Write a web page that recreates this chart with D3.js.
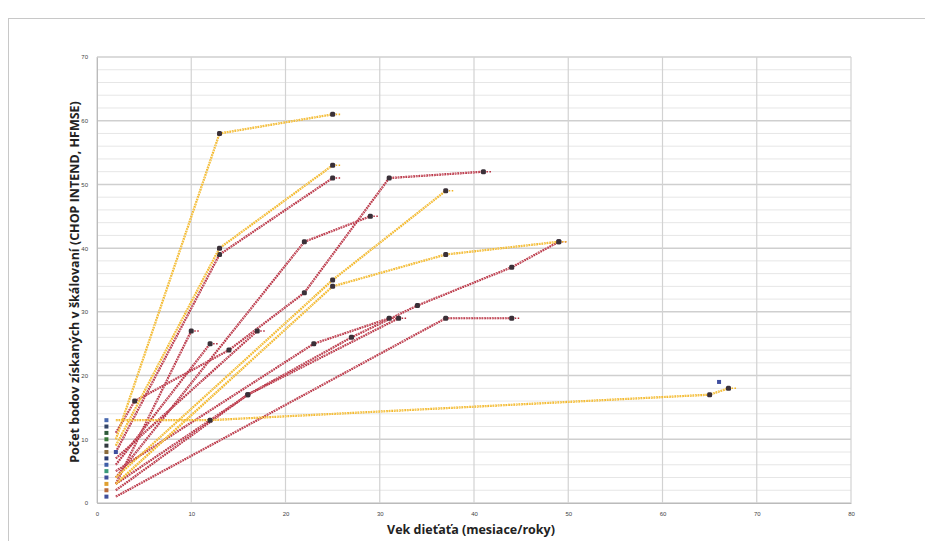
<!DOCTYPE html>
<html>
<head>
<meta charset="utf-8">
<script src="https://cdn.jsdelivr.net/npm/d3@7"></script>
<style>
  body { margin: 0; background: #fff; }
  svg { display: block; font-family: "Open Sans", "DejaVu Sans", sans-serif; }
</style>
</head>
<body>
<svg id="chart" width="925" height="541"></svg>
<script>
// axis ticks
var xTicks = [0, 10, 20, 30, 40, 50, 60, 70, 80];
var yTicks = [0, 10, 20, 30, 40, 50, 60, 70];
var yMinor = d3.range(0, 71, 2);

// each patient: [age, score] pairs
var redSeries = [
  [[2, 8], [13, 39], [25, 51]],
  [[2, 3], [10, 27]],
  [[2, 6], [12, 25]],
  [[2, 11], [4, 16], [14, 24], [22, 33], [31, 51], [41, 52]],
  [[2, 4], [22, 41], [29, 45]],
  [[2, 7], [17, 27]],
  [[2, 2], [16, 17], [27, 26], [34, 31], [44, 37], [49, 41]],
  [[2, 1], [37, 29], [44, 29]],
  [[2, 5], [23, 25], [31, 29]],
  [[2, 3], [16, 17], [32, 29]]
];
var orangeSeries = [
  [[2, 10], [13, 58], [25, 61]],
  [[2, 9], [13, 40], [25, 53]],
  [[2, 4], [25, 35], [37, 49]],
  [[2, 3], [25, 34], [37, 39], [49, 41]],
  [[2, 13], [12, 13], [65, 17], [67, 18]]
];
// first measurements, shown as lone dots
var baseline = [1, 2, 3, 4, 5, 6, 7, 8, 9, 10, 11, 12, 13];
var baseColors = ["#3f4f9a", "#b86a3a", "#e0a030", "#3f4f9a", "#3a9a7a", "#3f5fa8",
  "#2a3a70", "#8a6a3a", "#333a40", "#3a7a3a", "#2f5a3a", "#334466", "#4a6ab0"];
var loneBlue = [[2, 8], [66, 19]];

var svg = d3.select("#chart");
var x = d3.scaleLinear().domain([0, 80]).range([97, 851]);
var y = d3.scaleLinear().domain([0, 70]).range([503, 57]);

// frame
svg.append("rect").attr("x", 8.5).attr("y", 18.5).attr("width", 930).attr("height", 540)
  .attr("fill", "#fff").attr("stroke", "#c8c8c8");

// grid
svg.append("g").selectAll("line").data(yMinor.filter(function(d) { return d % 10; }))
  .join("line")
  .attr("x1", x(0)).attr("x2", x(80))
  .attr("y1", function(d) { return y(d); }).attr("y2", function(d) { return y(d); })
  .attr("stroke", "#e6e6e6").attr("stroke-width", 1);
svg.append("g").selectAll("line").data(yTicks)
  .join("line")
  .attr("x1", x(0)).attr("x2", x(80))
  .attr("y1", function(d) { return y(d); }).attr("y2", function(d) { return y(d); })
  .attr("stroke", "#cfcfcf").attr("stroke-width", 1.5);
svg.append("g").selectAll("line").data(xTicks)
  .join("line")
  .attr("x1", function(d) { return x(d); }).attr("x2", function(d) { return x(d); })
  .attr("y1", y(0)).attr("y2", y(70))
  .attr("stroke", "#d2d2d2").attr("stroke-width", 1.2);

// axes
svg.append("g").attr("transform", "translate(0," + y(0) + ")")
  .call(d3.axisBottom(x).tickValues(xTicks).tickSize(0).tickPadding(9))
  .call(function(g) { g.select(".domain").attr("stroke", "#bbb"); })
  .selectAll("text").attr("font-size", 6).attr("fill", "#444");
svg.append("g").attr("transform", "translate(" + x(0) + ",0)")
  .call(d3.axisLeft(y).tickValues(yTicks).tickSize(0).tickPadding(9))
  .call(function(g) { g.select(".domain").attr("stroke", "#bbb"); })
  .selectAll("text").attr("font-size", 6).attr("fill", "#444");

svg.append("text").attr("x", 471).attr("y", 534).attr("text-anchor", "middle")
  .attr("font-size", 12.5).attr("font-weight", "bold").attr("fill", "#222")
  .text("Vek dieťaťa (mesiace/roky)");
svg.append("text").attr("transform", "translate(79,282) rotate(-90)").attr("text-anchor", "middle")
  .attr("font-size", 12.5).attr("font-weight", "bold").attr("fill", "#222")
  .text("Počet bodov získaných v škálovaní (CHOP INTEND, HFMSE)");

var line = d3.line().x(function(d) { return x(d[0]); }).y(function(d) { return y(d[1]); });

function drawSeries(data, color, dotColor) {
  data.forEach(function(s) {
    var g = svg.append("g");
    g.append("path").attr("d", line(s)).attr("fill", "none")
      .attr("stroke", color).attr("stroke-width", 2.2)
      .attr("stroke-dasharray", "1.8,0.8");
    g.append("path").attr("d", line(s)).attr("fill", "none")
      .attr("stroke", dotColor).attr("stroke-width", 0.9)
      .attr("stroke-dasharray", "1,1.6");
    var last = s[s.length - 1];
    g.append("line").attr("x1", x(last[0])).attr("x2", x(last[0]) + 8)
      .attr("y1", y(last[1])).attr("y2", y(last[1]))
      .attr("stroke", color).attr("stroke-width", 1.6).attr("stroke-dasharray", "1.5,1.5");
    g.selectAll("rect").data(s.slice(1)).join("rect")
      .attr("x", function(d) { return x(d[0]) - 2.5; })
      .attr("y", function(d) { return y(d[1]) - 2.5; })
      .attr("width", 5).attr("height", 5).attr("rx", 1.5)
      .attr("fill", "#3a3038");
  });
}
drawSeries(redSeries, "#b3283a", "#eaa8b0");
drawSeries(orangeSeries, "#f2b320", "#fce7a0");

svg.append("g").selectAll("rect").data(baseline).join("rect")
  .attr("x", x(1) - 2).attr("y", function(d) { return y(d) - 2; })
  .attr("width", 4).attr("height", 4)
  .attr("fill", function(d, i) { return baseColors[i]; });

svg.append("g").selectAll("rect").data(loneBlue).join("rect")
  .attr("x", function(d) { return x(d[0]) - 2; })
  .attr("y", function(d) { return y(d[1]) - 2; })
  .attr("width", 4).attr("height", 4).attr("fill", "#3f4fa0");
</script>
</body>
</html>
